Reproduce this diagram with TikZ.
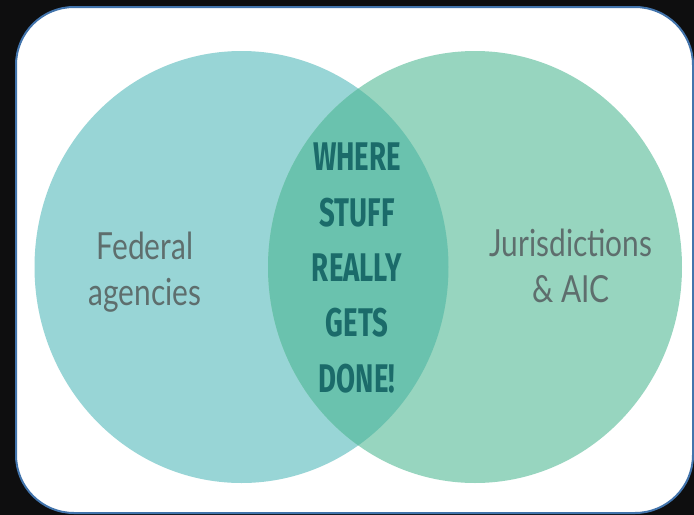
\documentclass[tikz,border=0pt]{standalone}
\usepackage{fontspec}
\newfontfamily\sidefont[FakeStretch=0.8]{Lato}
\newfontfamily\midfont[FakeStretch=0.69]{Fira Sans}
\definecolor{bgdark}{HTML}{0E0E0F}
\definecolor{frameblue}{HTML}{4274AC}
\definecolor{leftteal}{HTML}{98D5D6}
\definecolor{rightmint}{HTML}{97D5BF}
\definecolor{lensgreen}{HTML}{6AC2AE}
\definecolor{midtext}{HTML}{1B6B6A}
\definecolor{sidetext}{HTML}{5E6E6D}
\tikzset{
  sidelabel/.style={text=sidetext,align=center,font=\sidefont\fontsize{28}{35}\selectfont},
  midlabel/.style={text=midtext,align=center,font=\midfont\bfseries\fontsize{30}{41.5}\selectfont}
}
\begin{document}
\begin{tikzpicture}[x=0.75pt,y=-0.75pt]
    \useasboundingbox (0,0) rectangle (694,515);
    \fill[bgdark] (0,0) rectangle (694,515);
    \path
    (241.5,267) coordinate (L)
    (475,267) coordinate (R)
    ;
    \draw[frameblue,line width=1.5pt,fill=white,rounded corners=43.5pt] (16,7) rectangle (693,513);
    \fill[leftteal] (L) ellipse [x radius=207,y radius=216];
    \fill[rightmint] (R) ellipse [x radius=207,y radius=216];
    \begin{scope}
        \clip (L) ellipse [x radius=207,y radius=216];
        \fill[lensgreen] (R) ellipse [x radius=207,y radius=216];
    \end{scope}
    \node[sidelabel] (fed) at (145,272) {Federal\\agencies};
    \node[sidelabel] (jur) at (571,266) {Jurisdictions\\\& AIC};
    \node[midlabel] (mid) at (357,268) {WHERE\\STUFF\\REALLY\\GETS\\DONE!};
\end{tikzpicture}
\end{document}
